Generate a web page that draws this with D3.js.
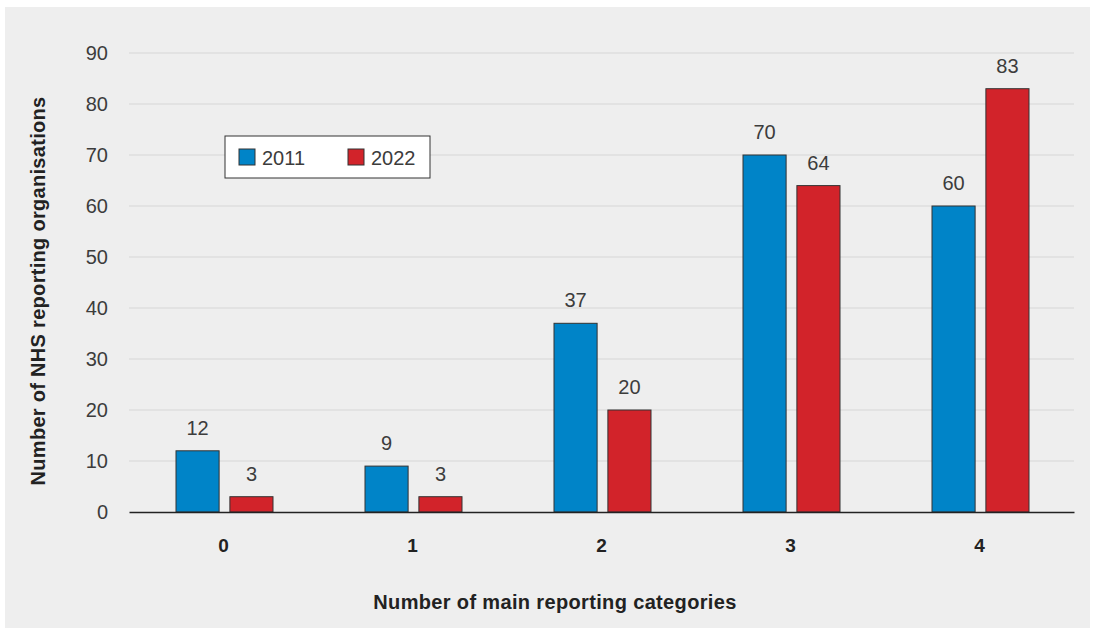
<!DOCTYPE html>
<html><head><meta charset="utf-8">
<script src="https://cdn.jsdelivr.net/npm/d3@7"></script>
<style>
html,body{margin:0;padding:0;background:#fff;}
text{font-family:"Liberation Sans",Arial,Helvetica,sans-serif;}
</style></head>
<body>
<svg id="chart" width="1095" height="633"></svg>
<script>
const categories = ["0","1","2","3","4"];
const seriesNames = ["2011","2022"];
const values2011 = [12, 9, 37, 70, 60];
const values2022 = [3, 3, 20, 64, 83];
const yTicks = [0,10,20,30,40,50,60,70,80,90];
const colors = ["#0084c8","#d2232a"];

const svg = d3.select("#chart");
svg.append("rect").attr("x",5).attr("y",7).attr("width",1085).attr("height",621).attr("fill","#eeeeee");

const m = {left:129, right:1074, top:53, bottom:512};
const x = d3.scaleBand().domain(categories).range([m.left, m.right]);
const y = d3.scaleLinear().domain([0,90]).range([m.bottom, m.top]);
const xs = d3.scaleBand().domain(seriesNames).range([0, 97]).paddingInner(0.2);

// gridlines
svg.append("g").selectAll("line").data(yTicks.filter(d=>d>0)).join("line")
  .attr("x1",m.left).attr("x2",m.right)
  .attr("y1",d=>y(d)).attr("y2",d=>y(d))
  .attr("stroke","#d6d6d6").attr("stroke-width",1);

// y axis labels
const yAxis = svg.append("g").attr("transform",`translate(${m.left},0)`)
  .call(d3.axisLeft(y).tickValues(yTicks).tickSize(0).tickPadding(21));
yAxis.select(".domain").remove();
yAxis.selectAll("text").attr("font-size",20).attr("fill","#3c3c3c")
  .style("font-family","'Liberation Sans',Arial,sans-serif");

// bars
const data = categories.map((c,i)=>({c, vals:[values2011[i], values2022[i]]}));
const groups = svg.append("g").selectAll("g").data(data).join("g")
  .attr("transform",d=>`translate(${x(d.c)+x.bandwidth()/2-47.5},0)`);
groups.selectAll("rect").data(d=>d.vals.map((v,j)=>({v,s:seriesNames[j],j}))).join("rect")
  .attr("x",d=>xs(d.s)).attr("width",xs.bandwidth())
  .attr("y",d=>y(d.v)).attr("height",d=>y(0)-y(d.v))
  .attr("fill",d=>colors[d.j]).attr("stroke","#333").attr("stroke-width",1);
groups.selectAll("text").data(d=>d.vals.map((v,j)=>({v,s:seriesNames[j],j}))).join("text")
  .attr("x",d=>xs(d.s)+xs.bandwidth()/2).attr("y",d=>y(d.v)-16)
  .attr("text-anchor","middle").attr("font-size",20).attr("fill","#3c3c3c")
  .text(d=>d.v);

// x axis
const xAxis = svg.append("g").attr("transform",`translate(0,${m.bottom})`)
  .call(d3.axisBottom(x).tickSize(0).tickPadding(27));
xAxis.select(".domain").attr("stroke","#222").attr("stroke-width",1.5);
xAxis.selectAll("text").attr("font-size",19).attr("font-weight","bold").attr("fill","#222")
  .style("font-family","'Liberation Sans',Arial,sans-serif");

// axis titles
svg.append("text").attr("x",555).attr("y",609).attr("text-anchor","middle")
  .attr("font-size",20).attr("fill","#222").attr("font-weight","bold").attr("letter-spacing","0.35px")
  .text("Number of main reporting categories");
svg.append("text").attr("transform","translate(45,291) rotate(-90)").attr("text-anchor","middle")
  .attr("font-size",20).attr("fill","#222").attr("font-weight","bold").attr("letter-spacing","0.3px")
  .text("Number of NHS reporting organisations");

// legend
const lg = svg.append("g").attr("transform","translate(225,136)");
lg.append("rect").attr("width",205).attr("height",42).attr("fill","#fff").attr("stroke","#333").attr("stroke-width",1);
const items = lg.selectAll("g").data(seriesNames).join("g").attr("transform",(d,i)=>`translate(${14+i*109},13)`);
items.append("rect").attr("width",16).attr("height",16).attr("fill",(d,i)=>colors[i]).attr("stroke","#333").attr("stroke-width",1);
items.append("text").attr("x",23).attr("y",16).attr("font-size",20).attr("fill","#3c3c3c").text(d=>d);
</script>
</body></html>
